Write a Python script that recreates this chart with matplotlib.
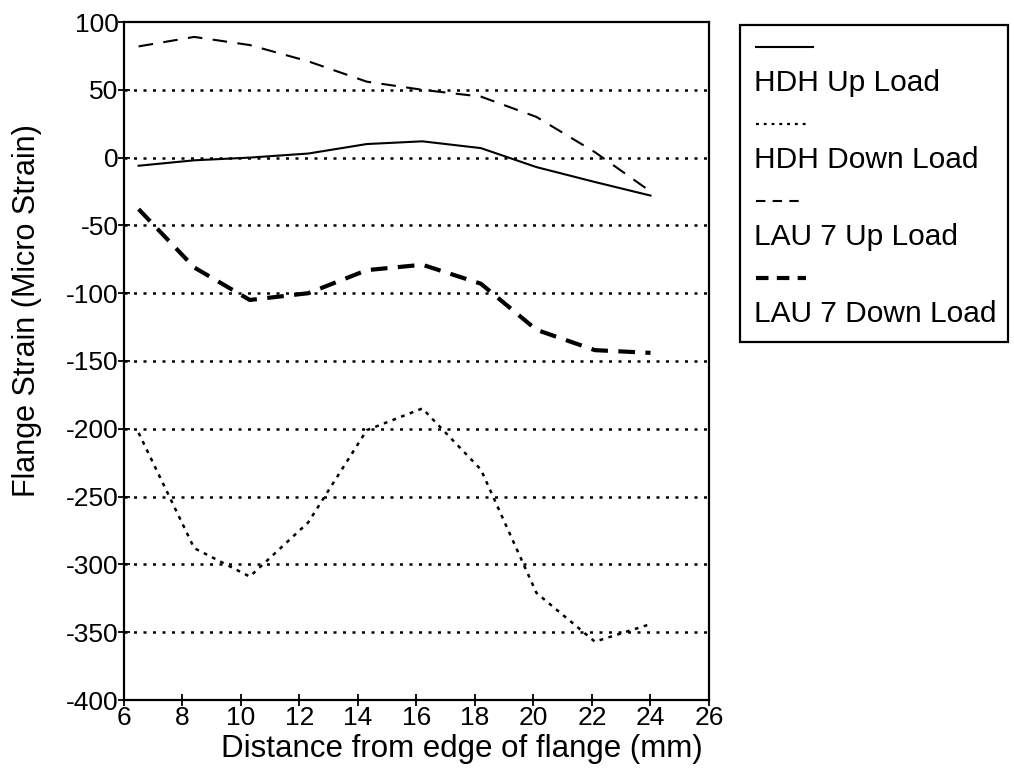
import matplotlib
matplotlib.use("Agg")
import matplotlib.pyplot as plt
from matplotlib.lines import Line2D
from matplotlib.patches import Rectangle

plt.rcParams['font.family'] = ['Liberation Sans', 'DejaVu Sans']
plt.rcParams['axes.unicode_minus'] = False

# distance from edge of flange (mm)
dist = [6.5, 8.4, 10.3, 12.3, 14.3, 16.2, 18.2, 20.1, 22.1, 24.0]

hdh_up = [-6, -2, 0, 3, 10, 12, 7, -7, -18, -28]
hdh_down = [-203, -288, -309, -269, -201, -185, -230, -321, -357, -344]
lau_up = [82, 89, 83, 71, 56, 50, 45, 30, 4, -25]
lau_down = [-38, -81, -105, -100, -83, -79, -93, -127, -142, -144]

labels = ["HDH Up Load", "HDH Down Load", "LAU 7 Up Load", "LAU 7 Down Load"]

fig = plt.figure(figsize=(10.14, 7.82), dpi=100)
ax = fig.add_axes([124/1014, 1-700/782, (709-124)/1014, (700-22)/782])

styles = [
    dict(color='black', lw=1.5, ls='-'),
    dict(color='black', lw=1.8, ls=(0, (1.5, 2.2))),
    dict(color='black', lw=1.5, ls=(0, (7, 5))),
    dict(color='black', lw=3.0, ls=(0, (4, 2.5))),
]
series = [hdh_up, hdh_down, lau_up, lau_down]

for yy in range(-350, 100, 50):
    ax.axhline(yy, color='black', lw=1.8, ls=(0, (1.2, 2.6)), zorder=1)

for s, st in zip(series, styles):
    ax.plot(dist, s, zorder=3, **st)

ax.set_xlim(6, 26)
ax.set_ylim(-400, 100)
ax.set_xticks(range(6, 27, 2))
ax.set_yticks(range(-400, 101, 50))
ax.tick_params(labelsize=19, direction='inout', length=8, width=1.3, pad=0)
for sp in ax.spines.values():
    sp.set_linewidth(1.6)

ax.set_xlabel("Distance from edge of flange (mm)", fontsize=22.5)
ax.set_ylabel("Flange Strain (Micro Strain)", fontsize=22)
ax.xaxis.set_label_coords(0.578, -0.05)
ax.yaxis.set_label_coords(-0.14, 0.575)

# legend box, sample line stacked above each label
fig.add_artist(Rectangle((740/1014, 1-342/782), (1008-740)/1014, (342-25)/782,
                         transform=fig.transFigure, fill=False, lw=1.6, color='black'))
leg_styles = [
    dict(color='black', lw=1.5, ls='-'),
    dict(color='black', lw=1.6, ls=(0, (1.3, 2.2))),
    dict(color='black', lw=1.5, ls=(0, (4.5, 3.5))),
    dict(color='black', lw=3.0, ls=(0, (3, 2))),
]
for i, (lab, st) in enumerate(zip(labels, leg_styles)):
    y_line = 1 - (47 + i * 77) / 782
    y_text = 1 - (83 + i * 77) / 782
    x1 = 813 if i == 0 else 806
    fig.add_artist(Line2D([756/1014, x1/1014], [y_line, y_line],
                          transform=fig.transFigure, **st))
    fig.text(754/1014, y_text, lab, fontsize=21.5, va='center', ha='left')

fig.savefig("out.png", dpi=100)
